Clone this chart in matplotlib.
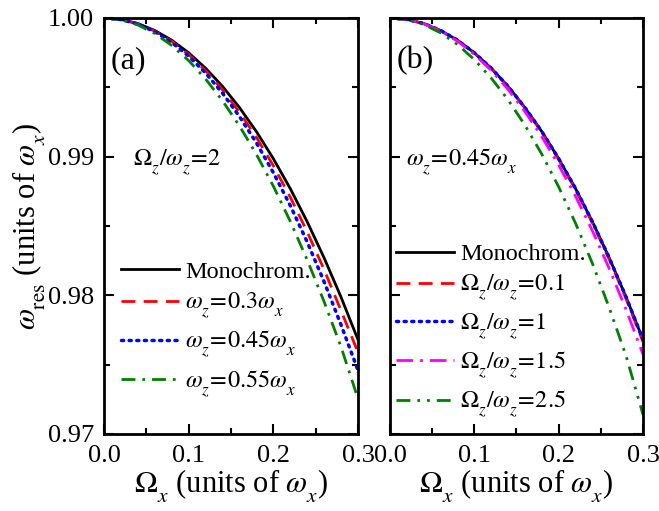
import matplotlib
matplotlib.use("Agg")
import matplotlib.pyplot as plt
from matplotlib.ticker import MultipleLocator, FormatStrFormatter

plt.rcParams["font.family"] = ["Liberation Serif", "DejaVu Serif"]
plt.rcParams["mathtext.fontset"] = "stix"
# push subscripts further down, like the original figure
try:
    import matplotlib._mathtext as _mt
    _mt.STIXFontConstants.sub1 = 0.75
    _mt.STIXFontConstants.subdrop = 0.6
except Exception:
    pass

# Omega_x sample points (units of omega_x)
omega_x = [0.0, 0.02, 0.04, 0.06, 0.08, 0.10, 0.12, 0.14, 0.16, 0.18,
           0.20, 0.22, 0.24, 0.26, 0.28, 0.30]

# panel (a): Omega_z/omega_z = 2
mono = [1.0, 0.99990, 0.99960, 0.99910, 0.99840, 0.99749, 0.99638, 0.99507,
        0.99354, 0.99181, 0.98986, 0.98770, 0.98531, 0.98270, 0.97987, 0.97680]
a_wz030 = [1.0, 0.99989, 0.99958, 0.99905, 0.99832, 0.99737, 0.99620, 0.99482,
           0.99320, 0.99140, 0.98935, 0.98708, 0.98458, 0.98185, 0.97890, 0.97590]
a_wz045 = [1.0, 0.99989, 0.99956, 0.99901, 0.99824, 0.99725, 0.99603, 0.99458,
           0.99290, 0.99100, 0.98885, 0.98648, 0.98385, 0.98098, 0.97787, 0.97460]
a_wz055 = [1.0, 0.99987, 0.99950, 0.99888, 0.99802, 0.99693, 0.99560, 0.99403,
           0.99222, 0.99017, 0.98788, 0.98534, 0.98256, 0.97954, 0.97628, 0.97255]

# panel (b): omega_z = 0.45 omega_x
b_r01 = [1.0, 0.99990, 0.99960, 0.99909, 0.99839, 0.99747, 0.99636, 0.99504,
         0.99350, 0.99176, 0.98980, 0.98762, 0.98522, 0.98260, 0.97975, 0.97665]
b_r1 = [1.0, 0.99990, 0.99960, 0.99910, 0.99840, 0.99749, 0.99638, 0.99507,
        0.99354, 0.99181, 0.98986, 0.98770, 0.98531, 0.98270, 0.97987, 0.97680]
b_r15 = [1.0, 0.99990, 0.99958, 0.99906, 0.99833, 0.99738, 0.99622, 0.99485,
         0.99325, 0.99144, 0.98940, 0.98715, 0.98465, 0.98193, 0.97896, 0.97575]
b_r25 = [1.0, 0.99988, 0.99953, 0.99893, 0.99809, 0.99700, 0.99567, 0.99410,
         0.99227, 0.99018, 0.98782, 0.98520, 0.98230, 0.97910, 0.97563, 0.97140]

FS = 17.5

fig = plt.figure(figsize=(6.59, 5.11), dpi=100)
ax_a = fig.add_axes([0.1578, 0.1507, 0.3854, 0.8141])
ax_b = fig.add_axes([0.5918, 0.1507, 0.3839, 0.8141])

lw = 2.0
ax_a.plot(omega_x, mono, color="black", lw=lw, label="Monochrom.")
ax_a.plot(omega_x, a_wz030, color="#ff0000", lw=lw, ls=(0, (5, 3)),
          label=r"$\omega_z\!=\!0.3\omega_x$")
ax_a.plot(omega_x, a_wz045, color="#0000ff", lw=2.5, ls=(0, (0.6, 1.6)),
          dash_capstyle="round", label=r"$\omega_z\!=\!0.45\omega_x$")
ax_a.plot(omega_x, a_wz055, color="#007f00", lw=lw, ls=(0, (5, 2.5, 1, 2.5)),
          label=r"$\omega_z\!=\!0.55\omega_x$")

ax_b.plot(omega_x, mono, color="black", lw=lw, label="Monochrom.")
ax_b.plot(omega_x, b_r01, color="#ff0000", lw=lw, ls=(0, (5, 3)),
          label=r"$\Omega_z/\omega_z\!=\!0.1$")
ax_b.plot(omega_x, b_r1, color="#0000ff", lw=2.5, ls=(0, (0.6, 1.6)),
          dash_capstyle="round", label=r"$\Omega_z/\omega_z\!=\!1$")
ax_b.plot(omega_x, b_r15, color="#ff00ff", lw=lw, ls=(0, (6, 2.5, 1, 2.5)),
          label=r"$\Omega_z/\omega_z\!=\!1.5$")
ax_b.plot(omega_x, b_r25, color="#007f00", lw=lw, ls=(0, (5, 2.5, 1, 2.5, 1, 2.5)),
          label=r"$\Omega_z/\omega_z\!=\!2.5$")

for ax in (ax_a, ax_b):
    ax.set_xlim(0, 0.3)
    ax.set_ylim(0.97, 1.0)
    ax.xaxis.set_major_locator(MultipleLocator(0.1))
    ax.xaxis.set_minor_locator(MultipleLocator(0.05))
    ax.yaxis.set_major_locator(MultipleLocator(0.01))
    ax.yaxis.set_minor_locator(MultipleLocator(0.005))
    ax.xaxis.set_major_formatter(FormatStrFormatter("%.1f"))
    ax.yaxis.set_major_formatter(FormatStrFormatter("%.2f"))
    ax.tick_params(which="both", direction="in", top=True, right=True,
                   width=1.5, labelsize=19)
    ax.tick_params(which="major", length=7)
    ax.tick_params(which="minor", length=4)
    ax.tick_params(axis="x", which="major", pad=8)
    ax.tick_params(axis="y", which="major", pad=7)
    for s in ax.spines.values():
        s.set_linewidth(2.0)
    ax.set_xlabel(r"$\Omega_x$ (units of $\omega_x$)", fontsize=22, labelpad=0)

ax_a.legend(loc="upper left", bbox_to_anchor=(0.0, 0.457), frameon=False,
            fontsize=FS, handlelength=2.4, handletextpad=0.25,
            labelspacing=0.33, borderaxespad=0.3)
ax_b.legend(loc="upper left", bbox_to_anchor=(-0.045, 0.50), frameon=False,
            fontsize=FS, handlelength=2.4, handletextpad=0.25,
            labelspacing=0.33, borderaxespad=0.3)

ax_b.tick_params(labelleft=False)
ax_a.set_ylabel(r"$\omega_{\rm res}$ (units of $\omega_x$)", fontsize=22, labelpad=0)

ax_a.text(0.025, 0.88, "(a)", transform=ax_a.transAxes, fontsize=23)
ax_b.text(0.025, 0.88, "(b)", transform=ax_b.transAxes, fontsize=23)
ax_a.text(0.115, 0.645, r"$\Omega_z/\omega_z\!=\!2$", transform=ax_a.transAxes, fontsize=FS)
ax_b.text(0.065, 0.645, r"$\omega_z\!=\!0.45\omega_x$", transform=ax_b.transAxes, fontsize=FS)

fig.savefig("out.png", dpi=100)
